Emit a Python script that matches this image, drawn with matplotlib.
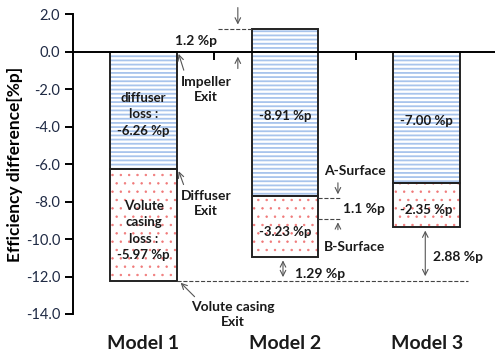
import numpy as np
import matplotlib.pyplot as plt

modelos = ["Model 1", "Model 2", "Model 3"]
topo = [0.0, 1.2, 0.0]                 # topo da parte azul
perda_difusor = [-6.26, -8.91, -7.00]  # parte azul
perda_voluta = [-5.97, -3.23, -2.35]   # parte vermelha
rotulo_azul = ["diffuser\nloss :\n-6.26 %p", "-8.91 %p", "-7.00 %p"]
rotulo_verm = ["Volute\ncasing\nloss :\n-5.97 %p", "-3.23 %p", "-2.35 %p"]
dif_superficie = 1.1
yticks = np.arange(-14, 2.1, 2)

plt.rcParams['font.family'] = ['Lato', 'DejaVu Sans']
plt.rcParams['hatch.linewidth'] = 1.3

fig = plt.figure(figsize=(4.95, 3.54), dpi=100)
ax = fig.add_axes([0.147, 0.113, 0.858, 0.847])

x = np.arange(len(modelos))
w = 0.47
topo = np.array(topo)
base_azul = topo + np.array(perda_difusor)
base_verm = base_azul + np.array(perda_voluta)

# preenchimento com hachura
ax.bar(x, perda_difusor, w, bottom=topo, color='white', edgecolor='#a8c4ec',
       hatch='----', linewidth=0)
verm = ax.bar(x, perda_voluta, w, bottom=base_azul, color='white', edgecolor='#f07878',
              hatch='..', linewidth=0)
for p in verm:
    if hasattr(p, 'set_hatch_linewidth'):
        p.set_hatch_linewidth(0.5)
# contornos
ax.bar(x, perda_difusor, w, bottom=topo, fill=False, edgecolor='#222222', linewidth=1.4)
ax.bar(x, perda_voluta, w, bottom=base_azul, fill=False, edgecolor='#222222', linewidth=1.4)

fs = 9.5
cor = '#1a1a1a'
for i in range(3):
    meio_a = topo[i] + perda_difusor[i] / 2
    meio_v = base_azul[i] + perda_voluta[i] / 2
    ax.text(x[i], meio_a - 0.2, rotulo_azul[i], ha='center', va='center', fontsize=fs,
            fontweight='bold', color=cor, linespacing=1.45)
    ax.text(x[i], meio_v - 0.3, rotulo_verm[i], ha='center', va='center', fontsize=fs,
            fontweight='bold', color=cor, linespacing=1.45)
    ax.text(x[i], -15.55, modelos[i], ha='center', va='center', fontsize=14,
            fontweight='bold', color=cor, clip_on=False)

# eixos
ax.set_xlim(-0.5, 2.5)
ax.set_ylim(-14, 2)
ax.set_yticks(yticks)
ax.set_yticklabels(['%.1f' % v for v in yticks], color='#1f2a44', fontsize=10.5)
ax.spines['top'].set_visible(False)
ax.spines['right'].set_visible(False)
ax.spines['left'].set_linewidth(1.4)
ax.spines['bottom'].set_position(('data', 0))
ax.spines['bottom'].set_linewidth(1.4)
ax.set_xticks([0.5, 1.5])
ax.set_xticklabels([])
ax.tick_params(axis='x', length=6, width=1.4, direction='out')
ax.tick_params(axis='y', length=6, width=1.4, direction='out', pad=3)
ax.set_ylabel("Efficiency difference[%p]", fontsize=12.5, fontweight='bold', labelpad=2)

borda = w / 2
seta = dict(arrowstyle='->', color='#555555', lw=0.8)
dupla = dict(arrowstyle='<->', color='#555555', lw=0.8)
tx = dict(fontsize=10, fontweight='bold', color=cor, ha='center', va='center')

# Impeller exit / 1.2 %p
ax.text(0.37, 0.57, "1.2 %p", **tx)
ax.plot([0.525, 1 - borda], [topo[1], topo[1]], ls='--', color='#444444', lw=0.8)
ax.annotate("", xy=(0.666, topo[1] + 0.1), xytext=(0.666, 2.5), arrowprops=seta,
            annotation_clip=False)
ax.annotate("", xy=(0.666, -0.12), xytext=(0.666, -1.05), arrowprops=seta)
ax.annotate("Impeller\nExit", xy=(borda + 0.01, -0.05), xytext=(0.44, -2.0),
            arrowprops=dict(arrowstyle='->', color='#555555', lw=0.8, shrinkB=1,
                            relpos=(0.1, 1.0)), linespacing=1.3, **tx)
ax.annotate("Diffuser\nExit", xy=(borda + 0.01, base_azul[0] - 0.05), xytext=(0.44, -8.1),
            arrowprops=dict(arrowstyle='->', color='#555555', lw=0.8, shrinkB=1,
                            relpos=(0.1, 1.0)), linespacing=1.3, **tx)
ax.annotate("Volute casing\nExit", xy=(borda + 0.02, base_verm[0] - 0.05), xytext=(0.63, -14.05),
            arrowprops=dict(arrowstyle='->', color='#555555', lw=0.8, shrinkB=1,
                            relpos=(0.1, 1.0)), linespacing=1.3, annotation_clip=False, **tx)
ax.plot([borda, 2.29], [base_verm[0], base_verm[0]], ls='--', color='#444444', lw=0.8)

# superficies A e B no Model 2
a_sup = base_azul[1] - 0.1
b_sup = a_sup - dif_superficie
ax.text(1.49, -6.35, "A-Surface", **tx)
ax.text(1.49, -10.4, "B-Surface", **tx)
ax.text(1.56, -8.38, "1.1 %p", **tx)
ax.plot([1 + borda, 1.39], [a_sup, a_sup], ls='--', color='#444444', lw=0.8)
ax.plot([1 + borda, 1.39], [b_sup, b_sup], ls='--', color='#444444', lw=0.8)
ax.annotate("", xy=(1.373, a_sup + 0.05), xytext=(1.373, -6.85), arrowprops=seta)
ax.annotate("", xy=(1.373, b_sup - 0.05), xytext=(1.373, -9.65), arrowprops=seta)

# diferencas de fundo
ax.annotate("", xy=(0.985, base_verm[1] - 0.05), xytext=(0.985, base_verm[0] + 0.05),
            arrowprops=dupla)
ax.text(1.245, -11.88, "1.29 %p", **tx)
ax.annotate("", xy=(1.99, base_verm[2] - 0.05), xytext=(1.99, base_verm[0] + 0.1),
            arrowprops=dupla)
ax.text(2.22, -10.97, "2.88 %p", **tx)

fig.savefig("out.png", dpi=100)
